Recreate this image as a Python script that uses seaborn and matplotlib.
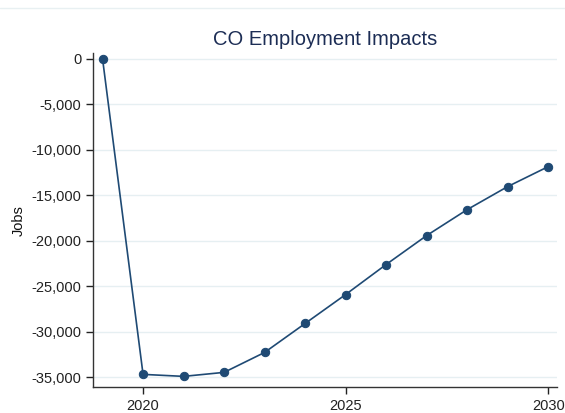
import pandas as pd
import seaborn as sns
import matplotlib.pyplot as plt
from matplotlib.ticker import FuncFormatter
from matplotlib.lines import Line2D

years = [2019, 2020, 2021, 2022, 2023, 2024, 2025, 2026, 2027, 2028, 2029, 2030]
jobs = [0, -34670, -34890, -34450, -32260, -29080, -25900, -22600, -19420, -16570, -14040, -11850]
yticks = [0, -5000, -10000, -15000, -20000, -25000, -30000, -35000]
xticks = [2020, 2025, 2030]

df = pd.DataFrame({"Year": years, "Jobs": jobs})

sns.set_style("white")
plt.rcParams["font.family"] = ["Liberation Sans", "DejaVu Sans"]

fig = plt.figure(figsize=(5.65, 4.13), dpi=100)
ax = fig.add_axes([0.165, 0.062, 0.821, 0.81])

line_col = "#1f4a74"
sns.lineplot(data=df, x="Year", y="Jobs", ax=ax, color=line_col, linewidth=1.2,
             marker="o", markersize=6, markeredgecolor=line_col)

ax.set_xlim(2018.77, 2030.22)
ax.set_ylim(-36100, 650)
ax.set_yticks(yticks)
ax.set_xticks(xticks)
ax.yaxis.set_major_formatter(FuncFormatter(lambda v, p: f"{int(v):,}"))
ax.grid(axis="y", color="#e6eff2", linewidth=1)
ax.set_axisbelow(True)
ax.tick_params(axis="both", direction="out", length=5, width=1, colors="#222222",
               labelsize=10.5, left=True, bottom=True)
for s in ["top", "right"]:
    ax.spines[s].set_visible(False)
for s in ["left", "bottom"]:
    ax.spines[s].set_color("#333333")
    ax.spines[s].set_linewidth(1)

ax.set_xlabel("")
ax.set_ylabel("Jobs", fontsize=10.5, color="#111111")
ax.set_title("CO Employment Impacts", fontsize=14.5, color="#1c2d55", pad=6)

fig.add_artist(Line2D([0, 1], [0.981, 0.981], color="#e8f0f2", linewidth=1,
                      transform=fig.transFigure))

fig.savefig("out.png", dpi=100)
